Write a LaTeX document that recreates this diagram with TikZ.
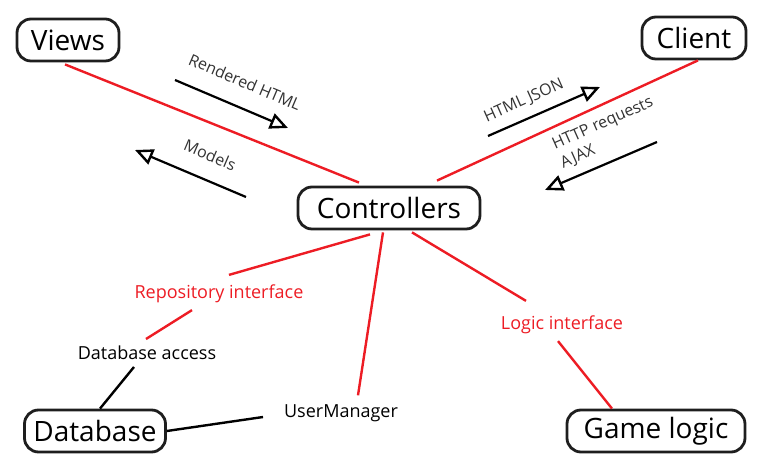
\documentclass[tikz,border=0pt]{standalone}
\usepackage{fontspec}
\setmainfont{Open Sans}
\usepackage{xcolor}
\usepackage{tikz}
\usetikzlibrary{calc,arrows.meta}
\definecolor{linkred}{HTML}{ED1C24}
\definecolor{boxgray}{HTML}{1E1E1E}
\definecolor{notegray}{HTML}{333333}

\begin{document}
\begin{tikzpicture}[x=0.5pt,y=-0.5pt,
  box/.style={draw=boxgray, line width=1.4pt, rounded corners=7pt, minimum height=21pt, inner xsep=2pt, font=\fontsize{14}{16}\selectfont},
  iface/.style={text=linkred, font=\fontsize{9}{11}\selectfont},
  plain/.style={text=black, font=\fontsize{9}{11}\selectfont},
  note/.style={text=notegray, font=\fontsize{8}{10}\selectfont, inner sep=1pt},
  link/.style={draw=linkred, line width=1.2pt},
  wire/.style={draw=black, line width=1.2pt},
  flow/.style={draw=black, line width=1.1pt, -{Triangle[open, length=9pt, width=8pt, line width=1.2pt]}}]
\useasboundingbox (0,0) rectangle (772,469);
% boxes
\node[box, minimum width=51pt] (views) at (68,40) {Views};
\node[box, minimum width=52pt] (client) at (694,38) {Client};
\node[box, minimum width=91pt] (ctrl) at (389,208) {Controllers};
\node[box, minimum width=70.5pt] (db) at (95,431) {Database};
\node[box, minimum width=89pt] (game) at (656,431) {Game logic};
% labels between boxes
\node[iface] (repo) at (219,294) {Repository interface};
\node[plain] (dbacc) at (147,353) {Database access};
\node[plain] (user) at (341,413) {UserManager};
\node[iface] (logic) at (562,325) {Logic interface};
% red links
\draw[link] ($(views.south)+(-3,2)$) -- ($(ctrl.north)+(-30,-3)$);
\draw[link] ($(client.south)+(4,0)$) -- ($(ctrl.north)+(48,-5)$);
\draw[link] ($(ctrl.south)+(-19,4)$) -- ($(repo.north)+(10,-3)$);
\draw[link] ($(repo.south)+(-27,0)$) -- ($(dbacc.north)+(-1,0)$);
\draw[link] ($(ctrl.south)+(-6,2)$) -- ($(user.north)+(17,-2)$);
\draw[link] ($(ctrl.south)+(23,2)$) -- ($(logic.north)+(-36,-8)$);
\draw[link] ($(logic.south)+(-4,0)$) -- ($(game.north)+(-44,0)$);
% black links
\draw[wire] ($(dbacc.south)+(-13,0)$) -- ($(db.north)+(5,0)$);
\draw[wire] (db.east) -- ($(user.west)+(-14,4)$);
% flows
\coordinate (htmlA) at (175,80);
\coordinate (htmlB) at (288,128);
\coordinate (modA) at (246,197);
\coordinate (modB) at (135,150);
\coordinate (jsonA) at (488,136);
\coordinate (jsonB) at (600,87);
\coordinate (ajaxA) at (657,142);
\coordinate (ajaxB) at (545,190);
\draw[flow] (htmlA) -- (htmlB);
\draw[flow] (modA) -- (modB);
\draw[flow] (jsonA) -- (jsonB);
\draw[flow] (ajaxA) -- (ajaxB);
\node[note, rotate=-23] (htmlNote) at (245,82) {Rendered HTML};
\node[note, rotate=-23] (modNote) at (210,155) {Models};
\node[note, rotate=24] (jsonNote) at (524,101) {HTML JSON};
\node[note, rotate=24, align=left] (ajaxNote) at (607,133) {HTTP requests\\AJAX};
\end{tikzpicture}
\end{document}
